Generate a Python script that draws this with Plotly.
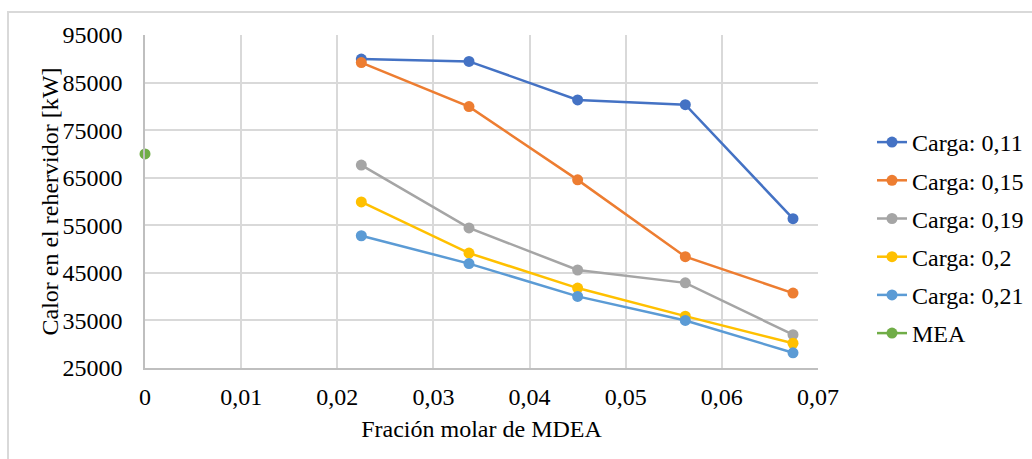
import plotly.graph_objects as go

x_mdea = [0.0225, 0.0337, 0.0450, 0.0562, 0.0674]
carga_011 = [89950, 89450, 81350, 80350, 56400]
carga_015 = [89200, 79950, 64550, 48400, 40750]
carga_019 = [67650, 54450, 45600, 42900, 32000]
carga_02 = [59900, 49150, 41800, 35900, 30200]
carga_021 = [52800, 46950, 40050, 35000, 28200]
x_mea = [0.0]
mea = [70000]

series = [
    ("Carga: 0,11", x_mdea, carga_011, "#4472C4"),
    ("Carga: 0,15", x_mdea, carga_015, "#ED7D31"),
    ("Carga: 0,19", x_mdea, carga_019, "#A5A5A5"),
    ("Carga: 0,2", x_mdea, carga_02, "#FFC000"),
    ("Carga: 0,21", x_mdea, carga_021, "#5B9BD5"),
    ("MEA", x_mea, mea, "#70AD47"),
]

FONT = "Liberation Serif"
FS = 24
fig = go.Figure()
for i, (name, xs, ys, col) in enumerate(series):
    fig.add_trace(go.Scatter(
        x=xs, y=ys, name=name, mode="lines+markers",
        line=dict(color=col, width=2.5),
        marker=dict(color=col, size=11),
        legendgroup=f"g{i}", cliponaxis=False,
    ))

W, H = 1032, 459
L, R, T, B = 145, 818, 35, 368
pw, ph = R - L, B - T

fig.update_layout(
    width=W, height=H,
    margin=dict(l=L, r=W - R, t=T, b=H - B, autoexpand=False),
    paper_bgcolor="white", plot_bgcolor="white",
    separators=", ",
    font=dict(family=FONT, size=FS, color="#000000"),
    showlegend=True,
    legend=dict(
        x=(872 - L) / pw, xanchor="left",
        y=(B - 120) / ph, yanchor="top",
        font=dict(family=FONT, size=FS, color="#000000"),
        tracegroupgap=4, bgcolor="rgba(0,0,0,0)",
    ),
    xaxis=dict(
        range=[0, 0.07], dtick=0.01, tick0=0,
        showgrid=True, gridcolor="#D9D9D9", gridwidth=1.5,
        showline=True, linecolor="#BFBFBF", linewidth=1.5,
        zeroline=False, ticks="", ticklabelstandoff=6,
        tickfont=dict(family=FONT, size=FS),
        title=dict(text="Fración molar de MDEA", standoff=12,
                   font=dict(family=FONT, size=FS)),
    ),
    yaxis=dict(
        range=[25000, 95000], dtick=10000, tick0=25000,
        tickformat="d",
        showgrid=True, gridcolor="#D9D9D9", gridwidth=1.5,
        showline=True, linecolor="#BFBFBF", linewidth=1.5,
        zeroline=False, ticks="", ticklabelstandoff=16,
        tickfont=dict(family=FONT, size=FS),
    ),
    annotations=[dict(
        text="Calor en el rehervidor [kW]", textangle=-90,
        xref="paper", yref="paper", x=(49 - L) / pw, y=0.5,
        xanchor="center", yanchor="middle", showarrow=False,
        font=dict(family=FONT, size=FS, color="#000000"),
    )],
    shapes=[dict(
        type="rect", xref="paper", yref="paper",
        x0=(8 - L) / pw, x1=(W + 20 - L) / pw,
        y0=(B - (H + 20)) / ph, y1=(B - 12) / ph,
        line=dict(color="#D9D9D9", width=2), fillcolor="rgba(0,0,0,0)",
        layer="below",
    )],
)
fig.write_html("out.html")
